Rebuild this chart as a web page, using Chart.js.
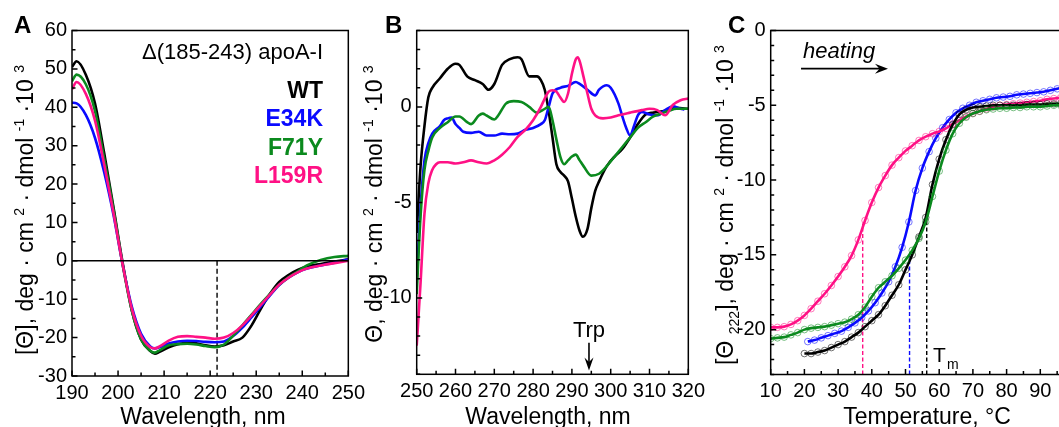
<!DOCTYPE html>
<html><head><meta charset="utf-8">
<script src="https://cdn.jsdelivr.net/npm/chart.js@4.4.0/dist/chart.umd.min.js"></script>
<style>
html,body{margin:0;padding:0;background:#fff;width:1059px;height:427px;overflow:hidden;position:relative;}
canvas{position:absolute;top:0;}
</style></head><body>
<canvas id="cA" width="370" height="427" style="left:0px"></canvas>
<canvas id="cB" width="370" height="427" style="left:340px"></canvas>
<canvas id="cC" width="400" height="427" style="left:690px"></canvas>
<script>
// ---------- Panel A: far-UV CD ----------
const wlA = [190,191,193,195,197,199,201,203,205,207,208,209,211,213,215,217,219,221,223,225,227,229,231,233,235,237,239,241,244,247,250];
const aWT    = [50.5,52,48.5,41,28,14,-0.5,-13,-20.5,-23.5,-24.2,-23.7,-22.5,-21.7,-21.4,-21.5,-22.0,-22.3,-22.0,-21.0,-20.0,-16.8,-12.5,-8.6,-5.5,-3.7,-2.4,-1.5,-0.8,-0.2,0.4];
const aE34K  = [41.2,41,38,32,23,12,-1,-12,-19,-22.3,-22.8,-22.5,-21.5,-21,-20.8,-20.9,-21.1,-21.2,-21,-19.6,-17.4,-14.7,-11.9,-9.0,-6.3,-4.4,-3.0,-2.0,-1.2,-0.5,0.4];
const aF71Y  = [46.8,48.5,46,39,26.5,13.5,-1,-13,-20.5,-23.4,-23.9,-23.3,-22,-21.7,-21.6,-21.8,-22.2,-22.5,-21.8,-19.5,-16.8,-14.0,-11.2,-8.6,-6.2,-4.3,-2.8,-1.2,0.2,1.0,1.3];
const aL159R = [44.7,46.6,43.5,36.5,25,12.5,-1,-12.5,-19.5,-22.5,-22.8,-22.3,-20.8,-19.8,-19.6,-19.8,-20.0,-20.3,-20.0,-18.8,-16.8,-14.2,-11.5,-8.8,-6.2,-4.4,-3.0,-2.0,-1.2,-0.6,0];
const aMarkerWl = 221.5;
const aXTicks = [190,200,210,220,230,240,250];
const aYTicks = [60,50,40,30,20,10,0,-10,-20,-30];

// ---------- Panel B: near-UV CD ----------
const wlB_WT = [250,251,252,253,254,256,258,260,261,263,265,267,268.5,270,272,274,276,277,279,281,282,283,284,285,286,287,288,289,290,291,292,292.8,294,295,296,297,299,301,303,305,307,309,311,314,317,320];
const bWT    = [-6.6,-3.1,-1.0,0.5,1.0,1.5,2.0,2.26,2.2,1.6,1.4,1.2,0.9,1.2,2.2,2.5,2.6,2.5,1.6,1.6,1.4,0.9,-0.2,-1.6,-3.0,-3.4,-3.6,-3.9,-4.8,-5.75,-6.5,-6.8,-6.4,-5.3,-4.4,-3.9,-3.1,-2.6,-2.2,-1.6,-0.9,-0.4,-0.3,-0.2,-0.05,-0.1];
const wlB_E34K = [250,251,252,253,254,256,257,258,259,260,261,262,264,266,268,270,272,274,276,278,280,282,283,284,285,287,289,291,292,294,296,297,299,300,302,303,304,305,306,307,308,310,312,314,316,318,319];
const bE34K  = [-9.1,-5.2,-2.8,-1.9,-1.4,-1.0,-0.7,-0.6,-0.56,-0.9,-1.1,-1.3,-1.36,-1.3,-1.5,-1.5,-1.4,-1.43,-1.4,-1.2,-1.1,-0.9,-0.7,0,0.7,1.0,1.1,1.3,1.2,0.9,0.6,0.9,1.13,1.0,0.17,-0.5,-1.1,-1.5,-1.0,-0.44,-0.26,-0.4,-0.44,-0.17,0.03,-0.1,-0.14];
const wlB_F71Y = [250,251,252,253,254,256,258,260,261,263,264,266,267,268,270,271,273,275,277,279,281,283,284,285,286,287,288,289,290,291,292,293,295,297,299,301,303,305,307,309,311,313,315,317,320];
const bF71Y  = [-9.8,-5.7,-3.3,-2.3,-1.6,-1.1,-0.8,-0.5,-0.5,-0.8,-0.9,-0.45,-0.35,-0.45,-0.66,-0.45,0.17,0.3,0.26,0,-0.3,-0.1,0,-0.7,-1.7,-2.6,-3.0,-2.8,-2.6,-2.5,-2.8,-3.1,-3.6,-3.5,-3.1,-2.6,-2.1,-1.6,-1.1,-0.8,-0.5,-0.35,-0.2,-0.1,-0.1];
const wlB_L159R = [250,251,252,253,254,255,256,258,260,262,264,266,268,270,272,274,276,278,280,282,283,284,285,286,287,288,289,290,291,291.5,292,293,294,295,296,298,300,302,305,308,310,312,314,316,318,320];
const bL159R = [-12.5,-9.2,-5.6,-4.0,-3.3,-3.0,-2.9,-2.9,-2.96,-2.9,-2.8,-2.9,-2.96,-2.8,-2.5,-2.1,-1.57,-1.2,-0.7,0,0.44,0.8,0.87,0.8,0.5,0.26,0.7,1.74,2.5,2.6,2.4,1.57,0.7,-0.1,-0.44,-0.6,-0.56,-0.44,-0.3,-0.17,-0.1,-0.17,-0.44,0.1,0.35,0.44];
const trpWl = 294.4;
const bXTicks = [250,260,270,280,290,300,310,320];
const bYTicks = [0,-5,-10];

// ---------- Panel C: thermal unfolding at 222 nm ----------
const tWT   = [20,22,24,26,28,30,32,34,36,38,40,42,44,46,48,50,52,54,56,58,60,62,64,66,68,70,72,74,76,78,80,82,84,86,88,90,92,94,96];
const cWT   = [-21.6,-21.6,-21.5,-21.4,-21.2,-21.0,-20.8,-20.5,-20.2,-19.8,-19.4,-19.0,-18.4,-17.7,-17.0,-16.0,-15.0,-13.8,-12.5,-10.3,-8.6,-7.3,-6.3,-5.6,-5.3,-5.15,-5.1,-5.05,-5.0,-5.0,-5.0,-5.0,-5.0,-4.95,-4.95,-4.95,-4.9,-4.9,-4.9];
const tE34K = [21,23,25,27,29,31,33,35,37,39,41,43,45,47,49,51,53,55,57,59,61,63,65,67,69,71,73,75,77,79,81,83,85,87,89,91,93,95,97];
const cE34K = [-20.8,-20.7,-20.55,-20.4,-20.25,-20.1,-19.85,-19.55,-19.2,-18.75,-18.2,-17.55,-16.8,-15.8,-14.5,-12.8,-10.7,-9.2,-8.1,-7.2,-6.5,-5.95,-5.5,-5.2,-5.0,-4.8,-4.7,-4.6,-4.5,-4.45,-4.4,-4.3,-4.25,-4.2,-4.15,-4.1,-4.0,-3.9,-3.8];
const tF71Y = [10,12,14,16,18,20,22,24,26,28,30,32,34,36,38,40,42,44,46,48,50,52,54,56,58,60,62,64,66,68,70,72,74,76,78,80,82,84,86,88,90,92,94,96];
const cF71Y = [-20.6,-20.55,-20.5,-20.35,-20.2,-20.0,-19.9,-19.85,-19.8,-19.7,-19.6,-19.5,-19.3,-19.0,-18.5,-17.8,-17.2,-16.8,-16.4,-15.9,-15.35,-14.7,-13.9,-12.8,-11.1,-9.4,-8.0,-6.9,-6.2,-5.8,-5.55,-5.4,-5.3,-5.25,-5.2,-5.2,-5.15,-5.15,-5.1,-5.1,-5.1,-5.05,-5.0,-5.0];
const tL159R = [10,12,14,16,18,20,22,24,26,28,30,32,34,36,38,40,42,44,46,48,50,52,54,56,58,60,62,64,66,68,70,72,74,76,78,80,82,84,86,88,90,92,94,96];
const cL159R = [-19.85,-19.85,-19.8,-19.65,-19.4,-19.05,-18.6,-18.1,-17.6,-17.05,-16.45,-15.8,-15.05,-14.0,-12.7,-11.5,-10.5,-9.7,-9.0,-8.5,-8.05,-7.7,-7.35,-7.1,-6.9,-6.75,-6.55,-6.25,-6.0,-5.75,-5.55,-5.4,-5.25,-5.1,-5.0,-4.95,-4.9,-4.85,-4.8,-4.75,-4.7,-4.6,-4.55,-4.5];
const tmTemps = [37.3, 51.2, 56.3];      // L159R, E34K, WT
const tmTops  = [-12.9, -15.0, -12.4];
const heatingArrow = [19, 44.8, -2.55];  // x start, x end, y
const cXTicks = [10,20,30,40,50,60,70,80,90];
const cYTicks = [0,-5,-10,-15,-20];

// ---------- styling & helpers ----------
const FAM = "'Liberation Sans', Arial, Helvetica, sans-serif";
const COL = {WT:'#000000', E34K:'#0a0aff', F71Y:'#0b8a1e', L159R:'#ff1185'};
const PTC = {WT:'rgba(0,0,0,0.55)', E34K:'rgba(10,10,255,0.55)', F71Y:'rgba(11,138,30,0.55)', L159R:'rgba(255,17,133,0.55)'};
const TICK_FONT = 20;

function curve(xs, ys, color, w) {
  return {data: xs.map((x,i)=>({x, y: ys[i]})), borderColor: color, borderWidth: w||2.6,
          pointRadius: 0, fill: false, cubicInterpolationMode: 'monotone'};
}
function scatterCurve(xs, ys, color, pcol) {
  return {data: xs.map((x,i)=>({x, y: ys[i]})), borderColor: color, borderWidth: 2.6,
          pointRadius: 3.3, pointStyle: 'circle', pointBorderWidth: 1, pointBorderColor: pcol,
          pointBackgroundColor: 'rgba(0,0,0,0)', fill: false, cubicInterpolationMode: 'monotone'};
}
function segment(x0, y0, x1, y1, color, dash, w) {
  return {data: [{x:x0,y:y0},{x:x1,y:y1}], borderColor: color, borderWidth: w||1.5,
          borderDash: dash||[], pointRadius: 0, fill: false};
}

function drawFrame(chart, o) {
  const {ctx, chartArea: a, scales: {x, y}} = chart;
  ctx.save();
  ctx.strokeStyle = '#000'; ctx.lineWidth = 1.5;
  ctx.strokeRect(a.left, a.top, a.right - a.left, a.bottom - a.top);
  ctx.beginPath();
  for (let i = 0; ; i++) {
    const v = o.xMin + i * o.xMinor; if (v > o.xMax + 1e-9) break;
    const major = Math.abs(v / o.xMajor - Math.round(v / o.xMajor)) < 1e-6;
    const px = x.getPixelForValue(v);
    ctx.moveTo(px, a.bottom); ctx.lineTo(px, a.bottom - (major ? 5.5 : 3.5));
  }
  for (let i = 0; ; i++) {
    const v = o.yMin + i * o.yMinor; if (v > o.yMax + 1e-9) break;
    const major = Math.abs(v / o.yMajor - Math.round(v / o.yMajor)) < 1e-6;
    const py = y.getPixelForValue(v);
    ctx.moveTo(a.left, py); ctx.lineTo(a.left + (major ? 5.5 : 3.5), py);
  }
  ctx.stroke();
  ctx.restore();
}

function drawRich(ctx, segs, cx, cy, size) {
  ctx.save();
  ctx.translate(cx, cy); ctx.rotate(-Math.PI / 2);
  const fN = size + 'px ' + FAM, fS = Math.round(size * 0.62) + 'px ' + FAM;
  let W = 0;
  segs.forEach(s => { ctx.font = s.k === 'n' ? fN : fS; W += ctx.measureText(s.t).width; });
  let x = -W / 2; const base = size * 0.36;
  ctx.fillStyle = '#000'; ctx.textAlign = 'left'; ctx.textBaseline = 'alphabetic';
  segs.forEach(s => {
    ctx.font = s.k === 'n' ? fN : fS;
    const dy = s.k === 'sup' ? -size * 0.42 : (s.k === 'sub' ? size * 0.24 : 0);
    ctx.fillText(s.t, x, base + dy);
    x += ctx.measureText(s.t).width;
  });
  ctx.restore();
}

function text(ctx, t, x, y, font, align, color) {
  ctx.save(); ctx.font = font; ctx.textAlign = align || 'left'; ctx.textBaseline = 'alphabetic';
  ctx.fillStyle = color || '#000'; ctx.fillText(t, x, y); ctx.restore();
}

function arrow(ctx, x0, y0, x1, y1, L, H) {
  const ang = Math.atan2(y1 - y0, x1 - x0);
  ctx.save();
  ctx.strokeStyle = '#000'; ctx.fillStyle = '#000'; ctx.lineWidth = 1.6;
  ctx.beginPath(); ctx.moveTo(x0, y0);
  ctx.lineTo(x1 - Math.cos(ang) * L * 0.6, y1 - Math.sin(ang) * L * 0.6); ctx.stroke();
  ctx.translate(x1, y1); ctx.rotate(ang);
  ctx.beginPath(); ctx.moveTo(0, 0); ctx.lineTo(-L, -H); ctx.lineTo(-L * 0.65, 0); ctx.lineTo(-L, H); ctx.closePath(); ctx.fill();
  ctx.restore();
}

function build(id, o) {
  return new Chart(document.getElementById(id), {
    type: 'line',
    data: {datasets: o.datasets},
    options: {
      responsive: false, animation: false, devicePixelRatio: 1,
      layout: {padding: {left: 0, right: o.padR, top: o.padT, bottom: 0}},
      plugins: {legend: {display: false}, tooltip: {enabled: false}},
      scales: {
        x: {type: 'linear', min: o.xMin, max: o.xMax,
            afterFit: s => { s.height = o.xH; },
            afterBuildTicks: s => { s.ticks = o.xTicks.map(v => ({value: v})); },
            grid: {display: false, drawTicks: false}, border: {display: false},
            ticks: {color: '#000', font: {family: FAM, size: TICK_FONT}, padding: 5, maxRotation: 0, autoSkip: false,
                    callback: v => String(v)}},
        y: {type: 'linear', min: o.yMin, max: o.yMax,
            afterFit: s => { s.width = o.yW; },
            afterBuildTicks: s => { s.ticks = o.yTicks.map(v => ({value: v})); },
            grid: {display: false, drawTicks: false}, border: {display: false},
            ticks: {color: '#000', font: {family: FAM, size: TICK_FONT}, padding: 5, autoSkip: false,
                    callback: v => String(v)}}
      }
    },
    plugins: [{id: 'deco' + id, afterDraw(chart) { drawFrame(chart, o); if (o.extra) o.extra(chart); }}]
  });
}

const TITLE_TAIL = [{t:', deg · cm ',k:'n'},{t:'2',k:'sup'},{t:' · dmol ',k:'n'},{t:'-1',k:'sup'},{t:' ·10 ',k:'n'},{t:'3',k:'sup'}];
const TITLE_SIZE = 23;

// ---------- Chart A ----------
build('cA', {
  xMin: 190, xMax: 250, yMin: -30, yMax: 60, xMajor: 10, xMinor: 5, yMajor: 10, yMinor: 5,
  xTicks: aXTicks, yTicks: aYTicks, yW: 72, padR: 21, padT: 30.5, xH: 51,
  datasets: [
    segment(190, 0, 250, 0, '#000', [], 1.5),
    curve(wlA, aL159R, COL.L159R),
    curve(wlA, aF71Y, COL.F71Y),
    curve(wlA, aE34K, COL.E34K),
    curve(wlA, aWT, COL.WT),
    segment(aMarkerWl, 0, aMarkerWl, -30, '#000', [5,3], 1.4)
  ],
  extra(chart) {
    const ctx = chart.ctx;
    text(ctx, 'A', 14, 33, 'bold 24px ' + FAM);
    drawRich(ctx, [{t:'[Θ]',k:'n'}].concat(TITLE_TAIL), 25, 210, TITLE_SIZE);
    text(ctx, 'Wavelength, nm', 203, 424, '23px ' + FAM, 'center');
    text(ctx, 'Δ(185-243) apoA-I', 323, 59, '22px ' + FAM, 'right');
    text(ctx, 'WT', 323, 98, 'bold 23px ' + FAM, 'right', COL.WT);
    text(ctx, 'E34K', 323, 126, 'bold 23px ' + FAM, 'right', COL.E34K);
    text(ctx, 'F71Y', 323, 155, 'bold 23px ' + FAM, 'right', COL.F71Y);
    text(ctx, 'L159R', 323, 183, 'bold 23px ' + FAM, 'right', COL.L159R);
  }
});

// ---------- Chart B ----------
build('cB', {
  xMin: 250, xMax: 320, yMin: -14, yMax: 4, xMajor: 10, xMinor: 5, yMajor: 5, yMinor: 1,
  xTicks: bXTicks, yTicks: bYTicks, yW: 76.7, padR: 17.3, padT: 30.5, xH: 52.7,
  datasets: [
    curve(wlB_L159R, bL159R, COL.L159R),
    curve(wlB_F71Y, bF71Y, COL.F71Y),
    curve(wlB_E34K, bE34K, COL.E34K),
    curve(wlB_WT, bWT, COL.WT)
  ],
  extra(chart) {
    const ctx = chart.ctx, x = chart.scales.x, y = chart.scales.y;
    text(ctx, 'B', 45, 33, 'bold 24px ' + FAM);
    drawRich(ctx, [{t:'Θ',k:'n'}].concat(TITLE_TAIL), 34, 204, TITLE_SIZE);
    text(ctx, 'Wavelength, nm', 208, 424, '23px ' + FAM, 'center');
    const ax = x.getPixelForValue(trpWl);
    arrow(ctx, ax, y.getPixelForValue(-12.35), ax, y.getPixelForValue(-13.8), 13, 4.5);
    text(ctx, 'Trp', ax, 337, '22px ' + FAM, 'center');
  }
});

// ---------- Chart C ----------
build('cC', {
  xMin: 10, xMax: 100, yMin: -23, yMax: 0, xMajor: 10, xMinor: 5, yMajor: 5, yMinor: 1,
  xTicks: cXTicks, yTicks: cYTicks, yW: 80.7, padR: 16, padT: 30.5, xH: 52.5,
  datasets: [
    scatterCurve(tF71Y, cF71Y, COL.F71Y, PTC.F71Y),
    scatterCurve(tWT, cWT, COL.WT, PTC.WT),
    scatterCurve(tL159R, cL159R, COL.L159R, PTC.L159R),
    scatterCurve(tE34K, cE34K, COL.E34K, PTC.E34K),
    segment(tmTemps[0], -23, tmTemps[0], tmTops[0], COL.L159R, [4,2.5], 1.4),
    segment(tmTemps[1], -23, tmTemps[1], tmTops[1], COL.E34K, [4,2.5], 1.4),
    segment(tmTemps[2], -23, tmTemps[2], tmTops[2], COL.WT, [4,2.5], 1.4)
  ],
  extra(chart) {
    const ctx = chart.ctx, x = chart.scales.x, y = chart.scales.y;
    text(ctx, 'C', 38, 33, 'bold 24px ' + FAM);
    drawRich(ctx, [{t:'[Θ ',k:'n'},{t:'222',k:'sub'},{t:']',k:'n'}].concat(TITLE_TAIL), 35, 205, TITLE_SIZE);
    text(ctx, 'Temperature, °C', 237, 424, '23px ' + FAM, 'center');
    text(ctx, 'heating', 113, 58, 'italic 22px ' + FAM, 'left');
    const hy = y.getPixelForValue(heatingArrow[2]);
    arrow(ctx, x.getPixelForValue(heatingArrow[0]), hy, x.getPixelForValue(heatingArrow[1]), hy, 13, 5);
    text(ctx, 'T', 243, 362, '21px ' + FAM, 'left');
    text(ctx, 'm', 257, 369, '14px ' + FAM, 'left');
  }
});
</script>
</body></html>
